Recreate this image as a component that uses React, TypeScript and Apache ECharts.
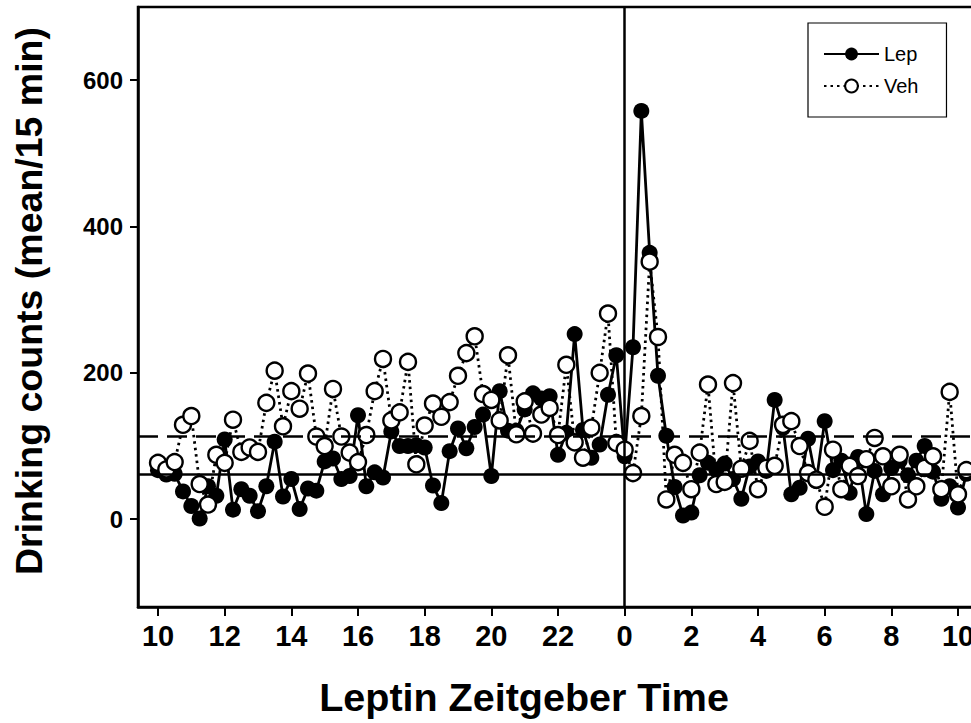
import React, { useEffect, useRef } from "react";
import * as echarts from "echarts";

// Sampling grid: 15-min bins starting at ZT 10 (clock hours, continuing past 24)
const startHour = 10;
const stepHours = 0.25;

const lepValues = [
  67, 61, 62, 38, 18, 1, 45, 32, 109, 13,
  41, 32, 11, 45, 106, 31, 55, 14, 42, 39,
  79, 83, 55, 59, 142, 45, 64, 57, 120, 100,
  100, 101, 98, 46, 22, 93, 124, 97, 126, 143,
  59, 175, 121, 121, 150, 172, 165, 168, 88, 118,
  253, 122, 84, 102, 170, 224, 86, 235, 558, 364,
  196, 114, 44, 5, 9, 60, 77, 68, 76, 55,
  28, 72, 79, 66, 163, 125, 34, 43, 110, 52,
  134, 67, 80, 36, 85, 7, 66, 34, 70, 80,
  60, 80, 100, 65, 28, 45, 16, 62,
];

const vehValues = [
  77, 68, 78, 129, 141, 48, 20, 88, 77, 136,
  92, 98, 92, 159, 203, 127, 175, 151, 199, 113,
  100, 178, 113, 91, 78, 115, 175, 219, 135, 146,
  215, 75, 128, 158, 140, 160, 196, 227, 250, 171,
  163, 135, 224, 116, 161, 117, 143, 152, 115, 211,
  105, 84, 125, 200, 281, 104, 95, 63, 141, 352,
  249, 27, 88, 77, 41, 91, 184, 48, 51, 186,
  69, 107, 41, 70, 73, 129, 134, 100, 63, 54,
  17, 95, 41, 73, 59, 82, 111, 86, 45, 88,
  27, 45, 70, 86, 41, 174, 34, 67,
];

const xTickValues = [10, 12, 14, 16, 18, 20, 22, 24, 26, 28, 30, 32, 34];
const yTickValues = [0, 200, 400, 600];
const lepMean = 62;
const vehMean = 113;
const injectionTime = 24;

const toPoints = (vals: number[]) =>
  vals.map((v, i) => [startHour + i * stepHours, v]);

export default function App() {
  const ref = useRef<HTMLDivElement>(null);
  useEffect(() => {
    document.body.style.margin = "0";
    if (!ref.current) return;
    const chart = echarts.init(ref.current, undefined, { renderer: "svg" });
    const font = '"Liberation Sans", Arial, sans-serif';
    chart.setOption({
      animation: false,
      backgroundColor: "#fff",
      grid: {
        left: 138,
        top: 7,
        width: 840,
        height: 600,
        show: true,
        borderColor: "#000",
        borderWidth: 2.5,
        outerBoundsMode: "none",
      },
      legend: {
        orient: "vertical",
        left: 808,
        top: 23,
        padding: [21, 28, 21, 15],
        itemWidth: 55,
        itemHeight: 16,
        itemGap: 12,
        borderColor: "#000",
        borderWidth: 1.2,
        backgroundColor: "#fff",
        textStyle: { fontSize: 20, color: "#000", fontFamily: font },
        data: ["Lep", "Veh"],
      },
      xAxis: {
        type: "value",
        min: 9.4,
        max: 34.6,
        axisLine: { show: true, onZero: false, lineStyle: { color: "#000", width: 2.5 } },
        axisTick: {
          show: true,
          length: 9,
          customValues: xTickValues,
          lineStyle: { color: "#000", width: 2 },
        },
        axisLabel: {
          customValues: xTickValues,
          formatter: (v: number) => String(v >= 24 ? v - 24 : v),
          fontSize: 29,
          fontWeight: "bold",
          color: "#000",
          fontFamily: '"Liberation Sans Narrow", "Liberation Sans", Arial',
          margin: 14,
        },
        splitLine: { show: false },
      },
      yAxis: {
        type: "value",
        min: -120,
        max: 700,
        axisLine: { show: true, lineStyle: { color: "#000", width: 2.5 } },
        axisTick: {
          show: true,
          length: 8,
          customValues: yTickValues,
          lineStyle: { color: "#000", width: 2 },
        },
        axisLabel: {
          customValues: yTickValues,
          fontSize: 24,
          fontWeight: "bold",
          color: "#000",
          fontFamily: font,
          margin: 15,
        },
        splitLine: { show: false },
      },
      series: [
        {
          name: "Lep",
          type: "line",
          data: toPoints(lepValues),
          symbol: "circle",
          symbolSize: 16,
          showAllSymbol: true,
          itemStyle: { color: "#000" },
          lineStyle: { color: "#000", width: 2.8 },
          z: 2,
          markLine: {
            silent: true,
            symbol: ["none", "none"],
            label: { show: false },
            data: [
              { xAxis: injectionTime, lineStyle: { color: "#000", width: 2.5, type: "solid" } },
              { yAxis: vehMean, lineStyle: { color: "#000", width: 2.5, type: [20, 9] } },
              { yAxis: lepMean, lineStyle: { color: "#000", width: 2.5, type: "solid" } },
            ],
          },
        },
        {
          name: "Veh",
          type: "line",
          data: toPoints(vehValues),
          symbol: "circle",
          symbolSize: 16,
          showAllSymbol: true,
          itemStyle: { color: "#fff", borderColor: "#000", borderWidth: 2.4 },
          lineStyle: { color: "#000", width: 2.8, type: [2.5, 4] },
          z: 3,
        },
      ],
      graphic: [
        {
          type: "text",
          x: 29,
          y: 301,
          rotation: Math.PI / 2,
          style: {
            text: "Drinking counts (mean/15 min)",
            fontSize: 37.5,
            fontWeight: "bold",
            fontFamily: font,
            fill: "#000",
            align: "center",
            verticalAlign: "middle",
            textAlign: "center",
            textVerticalAlign: "middle",
          },
        },
        {
          type: "text",
          x: 524,
          y: 697,
          style: {
            text: "Leptin Zeitgeber Time",
            fontSize: 39.5,
            fontWeight: "bold",
            fontFamily: font,
            fill: "#000",
            align: "center",
            verticalAlign: "middle",
            textAlign: "center",
            textVerticalAlign: "middle",
          },
        },
      ],
    });
    return () => chart.dispose();
  }, []);
  return (
    <div style={{ width: 971, height: 723, overflow: "hidden", position: "relative" }}>
      <div ref={ref} style={{ width: 990, height: 723 }} />
    </div>
  );
}
